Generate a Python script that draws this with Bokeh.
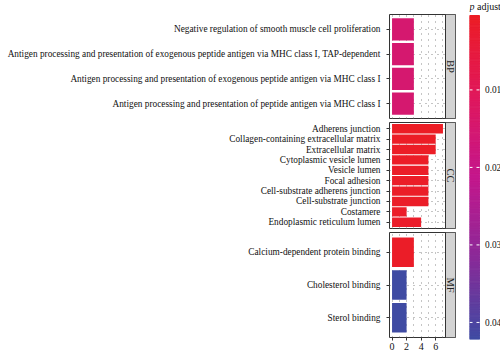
import numpy as np
from bokeh.plotting import figure
from bokeh.models import (FactorRange, Range1d, LinearColorMapper, BoxAnnotation, Span,
                          Label, FixedTicker, ColumnDataSource)
from bokeh.core.properties import value
from bokeh.layouts import row, column
from bokeh.transform import transform
from bokeh.embed import file_html
from bokeh.resources import INLINE

# ---------------- data ----------------
bp_terms = [
    "Negative regulation of smooth muscle cell proliferation",
    "Antigen processing and presentation of exogenous peptide antigen via MHC class I, TAP-dependent",
    "Antigen processing and presentation of exogenous peptide antigen via MHC class I",
    "Antigen processing and presentation of peptide antigen via MHC class I",
]
bp_counts = [3, 3, 3, 3]
bp_padj = [0.0150, 0.0150, 0.0150, 0.0150]

cc_terms = [
    "Adherens junction",
    "Collagen-containing extracellular matrix",
    "Extracellular matrix",
    "Cytoplasmic vesicle lumen",
    "Vesicle lumen",
    "Focal adhesion",
    "Cell-substrate adherens junction",
    "Cell-substrate junction",
    "Costamere",
    "Endoplasmic reticulum lumen",
]
cc_counts = [7, 6, 6, 5, 5, 5, 5, 5, 2, 4]
cc_padj = [0.0004, 0.0006, 0.0007, 0.0008, 0.0009, 0.0010, 0.0010, 0.0011, 0.0012, 0.0015]

mf_terms = [
    "Calcium-dependent protein binding",
    "Cholesterol binding",
    "Sterol binding",
]
mf_counts = [3, 2, 2]
mf_padj = [0.0012, 0.0422, 0.0422]

panel_labels = ["BP", "CC", "MF"]
x_ticks = [0, 2, 4, 6]
cb_ticks = [0.01, 0.02, 0.03, 0.04]
cb_tick_labels = ["0.01", "0.02", "0.03", "0.04"]

# ---------------- styling ----------------
FONT = "Liberation Serif"
LABEL_SIZE = "9.3px"
PMIN, PMAX = 0.0004, 0.0422
XMAX = max(cc_counts)
XPAD = 0.05 * XMAX
PLOT_PX, STRIP_PX = 56, 10
UNITS_PER_PX = (XMAX + 2 * XPAD) / PLOT_PX
STRIP_UNITS = STRIP_PX * UNITS_PER_PX
BORDER = "#333333"
STRIP_FILL = "#D3D3D3"
GRID = "#8a8a8a"
TEXT = "#111111"

stops = ["#EC1D25", "#E0185C", "#C4178C", "#8A2A98", "#3F4BA3"]


def hex2rgb(h):
    h = h.lstrip("#")
    return [int(h[i:i + 2], 16) for i in (0, 2, 4)]


def make_palette(stops, n=256):
    rgb = np.array([hex2rgb(s) for s in stops], dtype=float)
    pos = np.linspace(0, 1, len(stops))
    t = np.linspace(0, 1, n)
    out = []
    for ti in t:
        c = [np.interp(ti, pos, rgb[:, k]) for k in range(3)]
        out.append("#%02x%02x%02x" % tuple(int(round(v)) for v in c))
    return out


palette = make_palette(stops)
mapper = LinearColorMapper(palette=palette, low=PMIN, high=PMAX)


def panel(terms, counts, padj, label, frame_h, top, bottom, show_x):
    n = len(terms)
    factors = list(reversed(terms))
    yr = FactorRange(*factors, range_padding=0.2 / n, range_padding_units="percent")
    xr = Range1d(-XPAD, XMAX + XPAD + STRIP_UNITS)
    p = figure(y_range=yr, x_range=xr, frame_width=PLOT_PX + STRIP_PX, frame_height=frame_h,
               min_border_left=389, min_border_right=5, min_border_top=top,
               min_border_bottom=bottom, toolbar_location=None, output_backend="svg")
    src = ColumnDataSource(dict(term=terms, count=counts, padj=padj))
    p.hbar(y="term", left=0, right="count", height=0.9, source=src,
           fill_color=transform("padj", mapper), line_color=None)
    # grid
    p.xgrid.ticker = FixedTicker(ticks=list(range(0, XMAX + 1)))
    p.xgrid.grid_line_color = GRID
    p.xgrid.grid_line_dash = "1 5"
    p.ygrid.grid_line_color = GRID
    p.ygrid.grid_line_dash = "1 5"
    # strip
    p.add_layout(BoxAnnotation(left=XMAX + XPAD, fill_color=STRIP_FILL, fill_alpha=1,
                               line_color=None))
    p.add_layout(Span(location=XMAX + XPAD, dimension="height", line_color=BORDER,
                      line_width=1))
    p.add_layout(Label(x=XMAX + XPAD + STRIP_UNITS / 2, y=n / 2, text=label,
                       angle=-np.pi / 2, text_align="center", text_baseline="middle",
                       text_font=FONT, text_font_size="10.5px", text_color="#222222"))
    p.outline_line_color = BORDER
    p.outline_line_width = 1
    # y axis
    p.yaxis.major_label_text_font = FONT
    p.yaxis.major_label_text_font_size = LABEL_SIZE
    p.yaxis.major_label_text_color = TEXT
    p.yaxis.major_tick_out = 3
    p.yaxis.major_tick_in = 0
    p.yaxis.major_tick_line_color = BORDER
    p.yaxis.axis_line_color = None
    p.yaxis.major_label_standoff = 6
    # x axis
    if show_x:
        p.xaxis.ticker = FixedTicker(ticks=x_ticks)
        p.xaxis.major_label_text_font = FONT
        p.xaxis.major_label_text_font_size = "10px"
        p.xaxis.major_label_text_color = TEXT
        p.xaxis.major_tick_out = 3
        p.xaxis.major_tick_in = 0
        p.xaxis.minor_tick_out = 0
        p.xaxis.minor_tick_in = 0
        p.xaxis.major_tick_line_color = BORDER
        p.xaxis.axis_line_color = None
        p.xaxis.major_label_standoff = 2
    else:
        p.xaxis.visible = False
    return p


p1 = panel(bp_terms, bp_counts, bp_padj, panel_labels[0], 104, 14, 2, False)
p2 = panel(cc_terms, cc_counts, cc_padj, panel_labels[1], 106, 2, 2, False)
p3 = panel(mf_terms, mf_counts, mf_padj, panel_labels[2], 105, 2, 15, True)

# ---------------- colour bar ----------------
CB_BAR_PX = 324
CB_TOP_PAD = 15
px_to_p = (PMAX - PMIN) / CB_BAR_PX
cb = figure(x_range=Range1d(0, 3.1), y_range=Range1d(PMAX, PMIN - CB_TOP_PAD * px_to_p),
            frame_width=31, frame_height=CB_BAR_PX + CB_TOP_PAD, min_border_left=9,
            min_border_right=0, min_border_top=0, min_border_bottom=13,
            toolbar_location=None, output_backend="svg")
levels = np.linspace(PMIN, PMAX, 201)
mids = (levels[:-1] + levels[1:]) / 2
cbsrc = ColumnDataSource(dict(bottom=levels[:-1], top=levels[1:], mid=mids))
cb.quad(left=0, right=1, bottom="bottom", top="top", source=cbsrc,
        fill_color=transform("mid", mapper), line_color=transform("mid", mapper))
cb.axis.visible = False
cb.grid.visible = False
cb.outline_line_color = None
tsrc = ColumnDataSource(dict(y=cb_ticks, lab=cb_tick_labels))
cb.segment(x0=0, x1=0.3, y0="y", y1="y", source=tsrc, line_color="white", line_width=1)
cb.segment(x0=0.7, x1=1.0, y0="y", y1="y", source=tsrc, line_color="white", line_width=1)
cb.text(x=1.55, y="y", text="lab", source=tsrc, text_font=value(FONT),
        text_font_size=LABEL_SIZE, text_baseline="middle", text_align="left",
        text_color=TEXT)
title_y = PMIN - 9 * px_to_p
cb.add_layout(Label(x=0, y=title_y, text="p", text_font=FONT, text_font_style="italic",
                    text_font_size="10px", text_baseline="middle", text_align="left",
                    text_color=TEXT))
cb.add_layout(Label(x=0.75, y=title_y, text="adjust", text_font=FONT,
                    text_font_size="10px", text_baseline="middle", text_align="left",
                    text_color=TEXT))

layout = row(column(p1, p2, p3), cb)
open("out.html", "w").write(file_html(layout, INLINE))
